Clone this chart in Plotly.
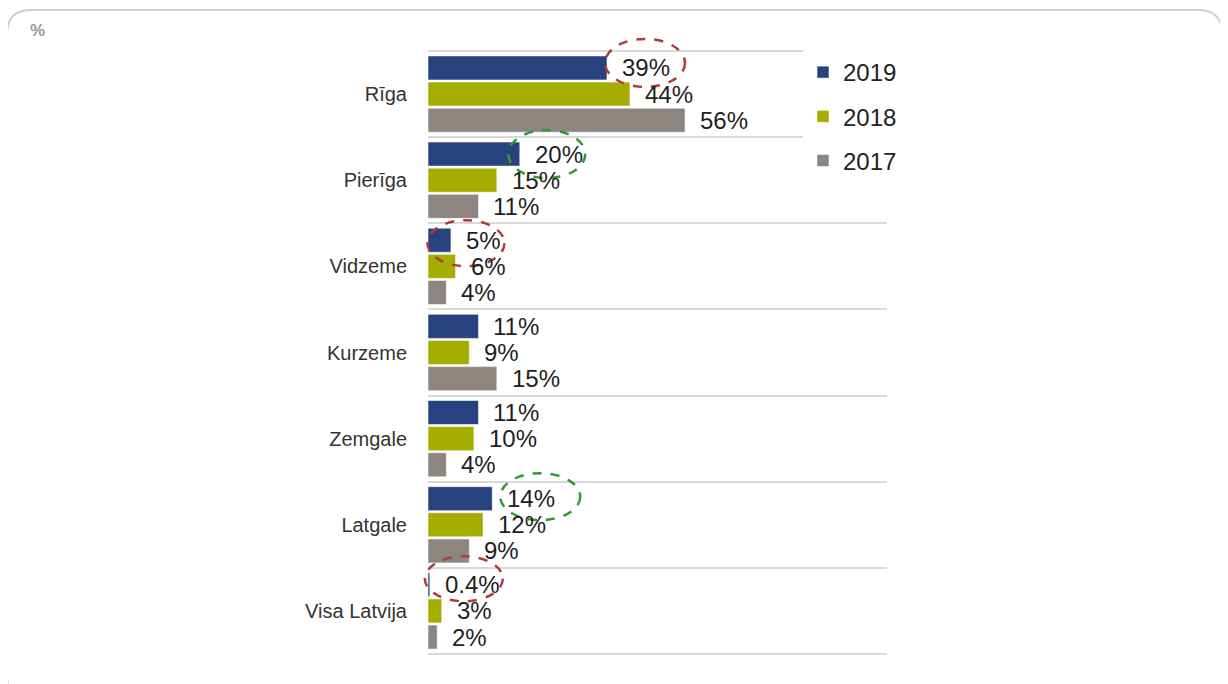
import plotly.graph_objects as go

# ---- data ----
categories = ["Rīga", "Pierīga", "Vidzeme", "Kurzeme", "Zemgale", "Latgale", "Visa Latvija"]
years = ["2019", "2018", "2017"]
values_2019 = [39, 20, 5, 11, 11, 14, 0.4]
values_2018 = [44, 15, 6, 9, 10, 12, 3]
values_2017 = [56, 11, 4, 15, 4, 9, 2]
labels_2019 = ["39%", "20%", "5%", "11%", "11%", "14%", "0.4%"]
labels_2018 = ["44%", "15%", "6%", "9%", "10%", "12%", "3%"]
labels_2017 = ["56%", "11%", "4%", "15%", "4%", "9%", "2%"]
colors = ["#27427F", "#A5AD00", "#8D8580"]

# highlighted 2019 values: category, ring colour
highlight_cats = ["Rīga", "Pierīga", "Vidzeme", "Latgale", "Visa Latvija"]
highlight_cols = ["#B23A3A", "#2E9B2E", "#B23A3A", "#2E9B2E", "#B23A3A"]
# hand-drawn ring geometry (pixels): centre offset from bar end / bar centre, size
ring_dx = [38, 27, 15, 48, 34]
ring_dy = [-5, 0, 3, -2, -6]
ring_w = [80, 77, 77, 80, 78]
ring_h = [48, 48, 46, 47, 45]

W, H = 1228, 684
OFF = 8  # page body margin
ML, MT = 428 - OFF, 51 - OFF
MR, MB = W - (887 - OFF), H - (654 - OFF)
PW, PH = W - ML - MR, H - MT - MB
BARGAP, GROUPGAP = 0.09, 0.08
XMAX = 100
NCAT = len(categories)
GRID = "#D9D9D9"


def px(X):
    return (X - OFF - ML) / PW


def py(Y):
    return 1 - (Y - OFF - MT) / PH


def data_to_paper(xv, yv):
    # x axis [0, XMAX]; y category axis reversed over [-0.5, NCAT-0.5]
    return xv / XMAX, 1 - (yv + 0.5) / NCAT


series = [values_2019, values_2018, values_2017]
labels = [labels_2019, labels_2018, labels_2017]

fig = go.Figure()
for k, (yr, vals, col) in enumerate(zip(years, series, colors)):
    fig.add_trace(go.Bar(
        y=categories, x=vals, name=yr, orientation="h",
        marker=dict(color=col, line=dict(color="rgba(255,255,255,0.55)", width=1)),
        legendgroup=yr, hoverinfo="skip",
    ))

# value labels next to each bar end
slot = (1 - BARGAP) / 3
for k, (vals, labs) in enumerate(zip(series, labels)):
    for i, (v, t) in enumerate(zip(vals, labs)):
        fig.add_annotation(
            x=v, y=i + (k - 1) * slot, xref="x", yref="y", text=t,
            showarrow=False, xanchor="left", yanchor="middle", xshift=13,
            font=dict(family="Arial", size=24, color="#1f1f1f"),
        )

# dashed rings around highlighted 2019 labels (paper refs so they are not clipped)
for cat, col, dx, dy, rw, rh in zip(highlight_cats, highlight_cols, ring_dx, ring_dy, ring_w, ring_h):
    i = categories.index(cat)
    v = values_2019[i]
    bx, by = data_to_paper(v, i - slot)
    xc = bx + dx / PW
    yc = by - dy / PH
    fig.add_shape(
        type="circle", xref="paper", yref="paper",
        x0=xc - rw / 2 / PW, x1=xc + rw / 2 / PW,
        y0=yc - rh / 2 / PH, y1=yc + rh / 2 / PH,
        line=dict(color=col, width=2.5, dash="dash"),
    )

# top and bottom separator lines (outer category boundaries)
for yb in (0, 1):
    fig.add_shape(type="line", xref="paper", yref="paper", x0=0, x1=1, y0=yb, y1=yb,
                  line=dict(color=GRID, width=2), layer="below")

# outer rounded frame
x0, x1, y0, y1, r = 7, 1222, 10, 700, 24
path = (f"M {px(x0 + r)},{py(y0)} L {px(x1 - r)},{py(y0)} "
        f"Q {px(x1)},{py(y0)} {px(x1)},{py(y0 + r)} "
        f"L {px(x1)},{py(y1 - r)} Q {px(x1)},{py(y1)} {px(x1 - r)},{py(y1)} "
        f"L {px(x0 + r)},{py(y1)} Q {px(x0)},{py(y1)} {px(x0)},{py(y1 - r)} "
        f"L {px(x0)},{py(y0 + r)} Q {px(x0)},{py(y0)} {px(x0 + r)},{py(y0)} Z")
fig.add_shape(type="path", xref="paper", yref="paper", path=path,
              line=dict(color="#CFCFCF", width=2), layer="below")

fig.add_annotation(x=px(28), y=py(31), xref="paper", yref="paper", text="<b>%</b>",
                   showarrow=False, xanchor="left", yanchor="middle",
                   font=dict(family="Arial", size=17, color="#9A9A9A"))

fig.update_layout(
    width=W, height=H,
    margin=dict(l=ML, r=MR, t=MT, b=MB),
    paper_bgcolor="white", plot_bgcolor="white",
    barmode="group", bargap=BARGAP, bargroupgap=GROUPGAP,
    font=dict(family="Arial", color="#222"),
    showlegend=True,
    legend=dict(
        x=px(803), y=py(50), xanchor="left", yanchor="top",
        bgcolor="white", font=dict(family="Arial", size=24, color="#222"),
        traceorder="grouped", tracegroupgap=10, itemwidth=30,
    ),
    xaxis=dict(range=[0, XMAX], visible=False, fixedrange=True),
    yaxis=dict(
        type="category", range=[NCAT - 0.5, -0.5], autorange=False,
        tickson="boundaries", showgrid=True, gridcolor=GRID, gridwidth=2,
        zeroline=False, ticks="", ticklabelstandoff=20, showline=False,
        tickfont=dict(family="Arial", size=20, color="#333"),
    ),
)

fig.write_html("out.html")
